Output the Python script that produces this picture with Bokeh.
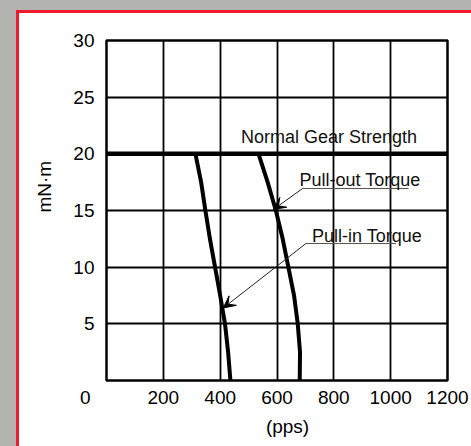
from bokeh.plotting import figure
from bokeh.models import (Span, Label, Arrow, VeeHead, FixedTicker,
                          GlobalInlineStyleSheet)
from bokeh.embed import file_html
from bokeh.resources import INLINE

# ---- data ----
torque_mNm = [20, 17.5, 15, 12.5, 10, 7.5, 5, 2.5, 0]
pull_in_pps = [313, 333, 348, 364, 382, 400, 417, 428, 436]
pull_out_pps = [535, 567, 596, 620, 640, 660, 673, 681, 680]
gear_strength_mNm = 20
x_ticks = [0, 200, 400, 600, 800, 1000, 1200]
y_ticks = [5, 10, 15, 20, 25, 30]
x_title = "(pps)"
y_title = "mN·m"
gear_label = "Normal Gear Strength"
pull_out_label = "Pull-out Torque"
pull_in_label = "Pull-in Torque"

# ---- layout / style ----
FONT = "Liberation Sans"
GRAY = "#b3b3af"
RED = "#ee1c2e"
INK = "#000000"
NBSP = "\u00a0"

p = figure(frame_width=341, frame_height=340,
           x_range=(0, 1200), y_range=(0, 30),
           min_border_left=106, min_border_right=24,
           min_border_top=40, min_border_bottom=66,
           output_backend="svg", toolbar_location=None)

p.background_fill_color = "white"
p.border_fill_color = None
p.outline_line_color = INK
p.outline_line_width = 2.5
p.outline_line_alpha = 1.0

p.xaxis.ticker = FixedTicker(ticks=x_ticks)
p.yaxis.ticker = FixedTicker(ticks=y_ticks)
# the shared corner "0" sits left of the frame corner in the reference
p.xaxis.major_label_overrides = {0: "0" + NBSP * 8}
for ax in (p.xaxis[0], p.yaxis[0]):
    ax.axis_line_color = None
    ax.major_tick_line_color = None
    ax.minor_tick_line_color = None
    ax.major_tick_out = 0
    ax.major_tick_in = 0
    ax.minor_tick_out = 0
    ax.minor_tick_in = 0
    ax.major_label_text_font = FONT
    ax.major_label_text_font_size = "19px"
    ax.major_label_text_color = INK
    ax.axis_label_text_font = FONT
    ax.axis_label_text_font_size = "19px"
    ax.axis_label_text_font_style = "normal"
    ax.axis_label_text_color = INK
# titles sit off-centre in the reference (pps a bit right, mN·m higher)
p.xaxis.axis_label = NBSP * 4 + x_title
p.yaxis.axis_label = NBSP * 9 + y_title
p.xaxis.major_label_standoff = 6
p.yaxis.major_label_standoff = 12
p.xaxis.axis_label_standoff = 5
p.yaxis.axis_label_standoff = 15

p.xgrid.ticker = FixedTicker(ticks=x_ticks[1:-1])
p.ygrid.ticker = FixedTicker(ticks=y_ticks[:-1])
p.grid.grid_line_color = INK
p.grid.grid_line_width = 1.8
p.grid.grid_line_alpha = 1.0

# curves
p.line(pull_in_pps, torque_mNm, line_width=4, line_color=INK, line_join="round")
p.line(pull_out_pps, torque_mNm, line_width=4, line_color=INK, line_join="round")
p.add_layout(Span(location=gear_strength_mNm, dimension="width",
                  line_color=INK, line_width=4.5))

# callouts (positions in data space)
p.add_layout(Label(x=783, y=21.5, text=gear_label, text_font=FONT,
                   text_font_size="18px", text_color="#111",
                   text_align="center", text_baseline="alphabetic"))

callouts = [
    # text, text_x, text_y, underline x0, x1, y, arrow tip x, y
    (pull_out_label, 892, 17.65, 690, 1063, 16.94, 588, 15.1),
    (pull_in_label, 917, 12.74, 702, 1019, 12.09, 411, 6.4),
]
for text, tx, ty, ux0, ux1, uy, ax_, ay in callouts:
    p.add_layout(Label(x=tx, y=ty, text=text, text_font=FONT,
                       text_font_size="18px", text_color="#111",
                       text_align="center", text_baseline="alphabetic"))
    p.segment(x0=[ux0], y0=[uy], x1=[ux1], y1=[uy],
              line_color="#555", line_width=1.2)
    p.add_layout(Arrow(end=VeeHead(size=12, fill_color=INK, line_color=INK,
                                   line_width=1),
                       x_start=ux0, y_start=uy, x_end=ax_, y_end=ay,
                       line_color="#222", line_width=1))

# page decoration: gray surround and red-bordered white panel
p.stylesheets = [GlobalInlineStyleSheet(css=f"""
html {{ min-height: 100%;
  background:
    linear-gradient({GRAY}, {GRAY}) 0 0 / 16px 100% no-repeat,
    linear-gradient({GRAY}, {GRAY}) 0 0 / 100% 10px no-repeat,
    linear-gradient({RED}, {RED}) 16px 10px / 3px 100% no-repeat,
    linear-gradient({RED}, {RED}) 16px 10px / 100% 3px no-repeat,
    #ffffff; }}
body {{ background: transparent; }}
""")]

open("out.html", "w").write(file_html(p, INLINE))
